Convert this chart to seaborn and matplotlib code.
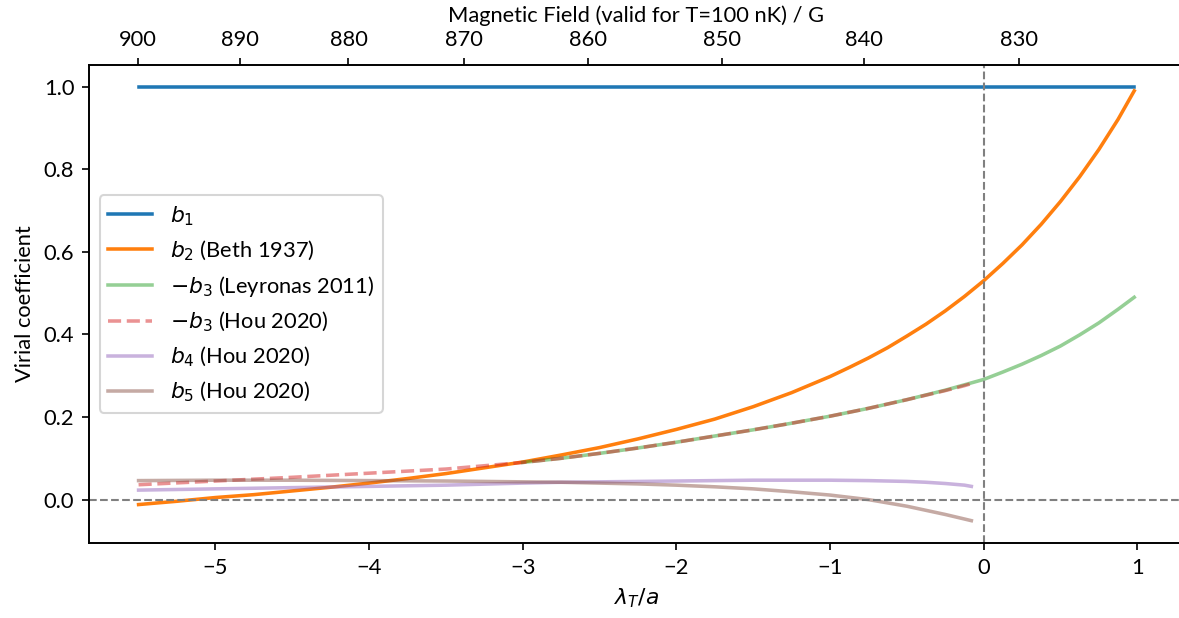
import matplotlib
matplotlib.use("Agg")
import matplotlib.pyplot as plt
import seaborn as sns

plt.rcParams['font.family'] = ['Lato', 'DejaVu Sans']
plt.rcParams['font.size'] = 10.5

# ---- data ----
x_b1 = [-5.5, 0.98]
b1 = [1.0, 1.0]

x_b2 = [-5.5, -5.25, -5.0, -4.75, -4.5, -4.25, -4.0, -3.75, -3.5, -3.25, -3.0,
        -2.75, -2.5, -2.25, -2.0, -1.75, -1.5, -1.25, -1.0, -0.875, -0.75, -0.625,
        -0.5, -0.375, -0.25, -0.125, 0.0, 0.125, 0.25, 0.375, 0.5, 0.625, 0.75,
        0.875, 0.98]
b2 = [-0.012, -0.004, 0.005, 0.012, 0.021, 0.030, 0.040, 0.051, 0.063, 0.077, 0.091,
      0.108, 0.126, 0.147, 0.170, 0.195, 0.225, 0.259, 0.298, 0.320, 0.343, 0.368,
      0.396, 0.425, 0.457, 0.492, 0.530, 0.572, 0.617, 0.667, 0.722, 0.782, 0.848,
      0.921, 0.990]

x_b3_ley = [-3.0, -2.75, -2.5, -2.25, -2.0, -1.75, -1.5, -1.25, -1.0, -0.75, -0.5,
            -0.25, 0.0, 0.125, 0.25, 0.375, 0.5, 0.625, 0.75, 0.875, 0.98]
mb3_ley = [0.090, 0.100, 0.112, 0.125, 0.139, 0.154, 0.169, 0.185, 0.202, 0.221, 0.242,
           0.265, 0.291, 0.309, 0.328, 0.349, 0.372, 0.399, 0.428, 0.461, 0.490]

x_hou = [-5.5, -5.0, -4.5, -4.0, -3.5, -3.0, -2.75, -2.5, -2.25, -2.0, -1.75, -1.5,
         -1.25, -1.0, -0.75, -0.5, -0.375, -0.25, -0.125, -0.08]
mb3_hou = [0.036, 0.045, 0.054, 0.064, 0.074, 0.090, 0.100, 0.112, 0.125, 0.139, 0.154,
           0.169, 0.185, 0.202, 0.221, 0.242, 0.253, 0.264, 0.276, 0.281]
b4_hou = [0.023, 0.026, 0.029, 0.032, 0.035, 0.040, 0.042, 0.043, 0.044, 0.045, 0.046,
          0.047, 0.047, 0.047, 0.046, 0.044, 0.042, 0.039, 0.035, 0.032]
b5_hou = [0.046, 0.047, 0.047, 0.046, 0.045, 0.043, 0.042, 0.040, 0.038, 0.035, 0.031,
          0.026, 0.019, 0.011, 0.000, -0.016, -0.026, -0.036, -0.047, -0.051]

top_tick_pos = [-5.504, -4.840, -4.134, -3.381, -2.575, -1.706, -0.778, 0.233]
top_tick_labels = ['900', '890', '880', '870', '860', '850', '840', '830']

# ---- figure ----
W, H = 1179, 618
fig = plt.figure(figsize=(W / 150, H / 150), dpi=150)
ax = fig.add_axes([88.8 / W, 1 - 543 / H, (1184 - 88.8) / W, (543 - 65) / H])

lw = 1.7
sns.lineplot(x=x_b1, y=b1, ax=ax, color='C0', lw=lw, label=r'$b_1$', sort=False)
sns.lineplot(x=x_b2, y=b2, ax=ax, color='C1', lw=lw, label=r'$b_2$ (Beth 1937)', sort=False)
sns.lineplot(x=x_b3_ley, y=mb3_ley, ax=ax, color='C2', lw=lw, alpha=0.5,
             label=r'$-b_3$ (Leyronas 2011)', sort=False)
sns.lineplot(x=x_hou, y=mb3_hou, ax=ax, color='C3', lw=lw, alpha=0.5, linestyle='--',
             label=r'$-b_3$ (Hou 2020)', sort=False)
sns.lineplot(x=x_hou, y=b4_hou, ax=ax, color='C4', lw=lw, alpha=0.5,
             label=r'$b_4$ (Hou 2020)', sort=False)
sns.lineplot(x=x_hou, y=b5_hou, ax=ax, color='C5', lw=lw, alpha=0.5,
             label=r'$b_5$ (Hou 2020)', sort=False)

ax.axhline(0, color='gray', lw=1, ls='--')
ax.axvline(0, color='gray', lw=1, ls='--')

ax.set_xlim(-5.824, 1.304)
ax.set_ylim(-0.1051, 1.0526)
ax.set_xticks([-5, -4, -3, -2, -1, 0, 1])
ax.set_yticks([0.0, 0.2, 0.4, 0.6, 0.8, 1.0])
ax.set_xlabel(r'$\lambda_T/a$')
ax.set_ylabel('Virial coefficient')
ax.legend(loc='center left')
ax.spines['right'].set_visible(False)

ax2 = ax.twiny()
ax2.set_xlim(ax.get_xlim())
ax2.set_xticks(top_tick_pos)
ax2.set_xticklabels(top_tick_labels)
ax2.set_xlabel('Magnetic Field (valid for T=100 nK) / G')
ax2.spines['right'].set_visible(False)

fig.savefig('out.png', dpi=150)
